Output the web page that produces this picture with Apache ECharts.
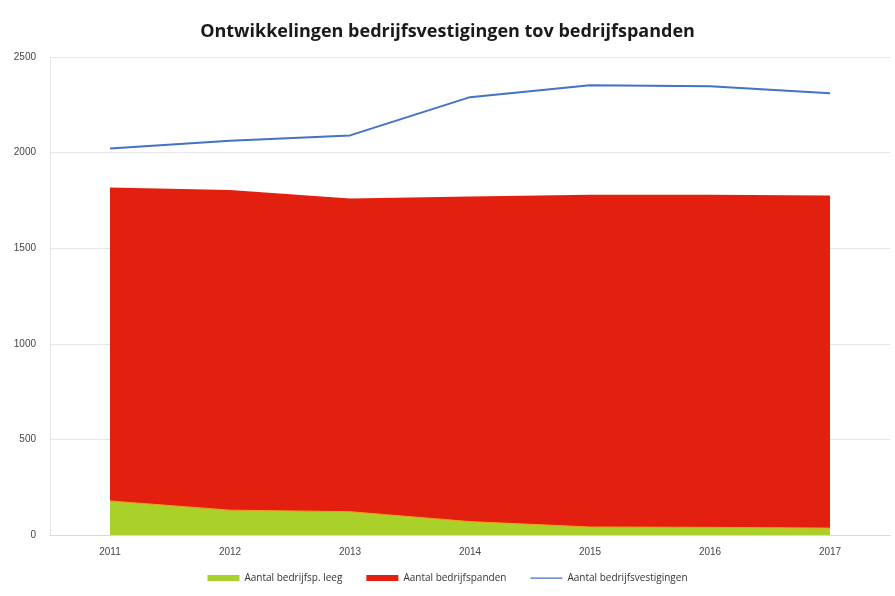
<!DOCTYPE html>
<html>
<head>
<meta charset="utf-8">
<script src="https://cdn.jsdelivr.net/npm/echarts@6/dist/echarts.min.js"></script>
<style>
    html, body { margin: 0; padding: 0; background: #fff; }
    #chart { width: 895px; height: 596px; }
</style>
</head>
<body>
<div id="chart"></div>
<script>
// jaren op de x-as
var years = ['2011', '2012', '2013', '2014', '2015', '2016', '2017'];
var leeg = [178, 130, 122, 70, 42, 40, 36];
var panden = [1818, 1804, 1760, 1770, 1780, 1780, 1775];
var vestigingen = [2022, 2062, 2090, 2290, 2352, 2347, 2310];

var oChart = echarts.init(document.getElementById('chart'));

var option = {
    title: {
        text: 'Ontwikkelingen bedrijfsvestigingen tov bedrijfspanden',
        left: 'center',
        top: 18,
        textStyle: {
            fontFamily: 'Open Sans',
            fontSize: 18,
            fontWeight: 'bold',
            color: '#1a1a1a'
        }
    },
    legend: {
        bottom: 8,
        left: 'center',
        itemWidth: 32,
        itemHeight: 6,
        itemGap: 24,
        textStyle: { fontSize: 10, color: '#333', fontFamily: 'Open Sans' },
        data: [
            { name: 'Aantal bedrijfsp. leeg', icon: 'rect' },
            { name: 'Aantal bedrijfspanden', icon: 'rect' },
            // dunne lijn zonder bolletje
            { name: 'Aantal bedrijfsvestigingen', icon: 'path://M0,0 M0,2.5 L32,2.5 L32,3.8 L0,3.8 Z M32,6' }
        ]
    },
    grid: {
        left: 50,
        right: 5,
        top: 57,
        bottom: 61
    },
    xAxis: {
        type: 'category',
        data: years,
        boundaryGap: true,
        axisLine: { lineStyle: { color: '#d9d9d9' } },
        axisTick: { show: false },
        axisLabel: { fontSize: 10, color: '#444', margin: 12 }
    },
    yAxis: {
        type: 'value',
        min: 0,
        max: 2500,
        interval: 500,
        axisLine: { show: true, lineStyle: { color: '#e6e6e6' } },
        axisLabel: {
            fontSize: 10,
            color: '#444',
            margin: 14,
            formatter: function (v) { return String(v); }
        },
        splitLine: { lineStyle: { color: '#e6e6e6' } }
    },
    series: [{
        name: 'Aantal bedrijfspanden',
        type: 'line',
        data: panden,
        symbol: 'none',
        z: 1,
        itemStyle: { color: '#e3200f' },
        lineStyle: { width: 0 },
        areaStyle: { color: '#e3200f', opacity: 1 }
    }, {
        name: 'Aantal bedrijfsp. leeg',
        type: 'line',
        data: leeg,
        symbol: 'none',
        z: 2,
        itemStyle: { color: '#a9d12a' },
        lineStyle: { width: 1, color: '#f0a020' },
        areaStyle: { color: '#a9d12a', opacity: 1 }
    }, {
        name: 'Aantal bedrijfsvestigingen',
        type: 'line',
        data: vestigingen,
        symbol: 'none',
        z: 3,
        itemStyle: { color: '#4472c4' },
        lineStyle: { width: 2, color: '#4472c4' }
    }]
};

oChart.setOption(option);
</script>
</body>
</html>
